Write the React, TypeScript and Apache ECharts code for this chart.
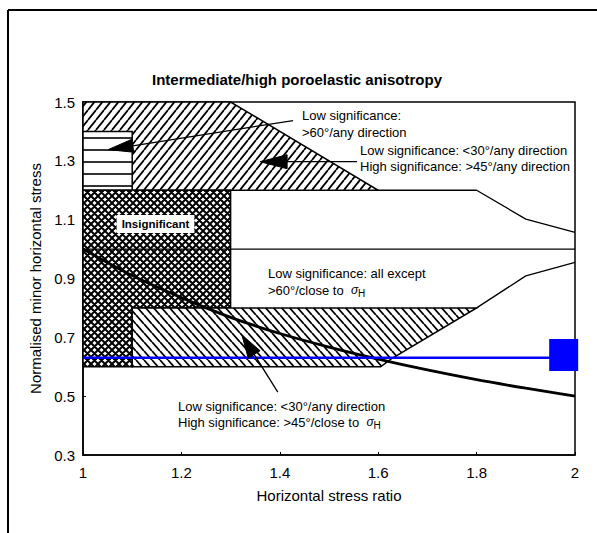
import React, { useEffect, useRef } from "react";
import * as echarts from "echarts";

// ---- Data ----
const xTicks = [1, 1.2, 1.4, 1.6, 1.8, 2];
const yTicks = [0.3, 0.5, 0.7, 0.9, 1.1, 1.3, 1.5];

// Regions (polygons in data coordinates)
const hatchTopRegion = [[1, 1.5], [1.3, 1.5], [1.6, 1.2], [1, 1.2]];
const horizontalBox = [[1, 1.4], [1.1, 1.4], [1.1, 1.2], [1, 1.2]];
const insignificantRegion = [[1, 1.2], [1.3, 1.2], [1.3, 0.8], [1.1, 0.8], [1.1, 0.6], [1, 0.6]];
const lowerHatchRegion = [[1.1, 0.8], [1.8, 0.8], [1.625, 0.625], [1.605, 0.6], [1.1, 0.6]];

// Boundary lines
const upperEdge = [[1.6, 1.2], [1.8, 1.2], [1.9, 1.102], [2, 1.057]];
const unityLine = [[1, 1], [2, 1]];
const lowerEdge = [[1.8, 0.8], [1.9, 0.909], [2, 0.955]];
const stressCurve = [
  [1, 1.0], [1.1, 0.91], [1.2, 0.835], [1.3, 0.768], [1.4, 0.713], [1.5, 0.667],
  [1.6, 0.626], [1.7, 0.589], [1.8, 0.556], [1.9, 0.527], [2, 0.5],
];

// Blue marker line and square
const blueLine = [[1, 0.631], [1.955, 0.631]];
const blueSquare = [[1.977, 0.64]];

// Annotation arrows: [tailX, tailY, tipX, tipY, headLength, headHalfWidth]
const arrows = [
  [1.427, 1.437, 1.051, 1.338, 25, 6.5],
  [1.557, 1.297, 1.36, 1.297, 27, 7],
  [1.396, 0.514, 1.323, 0.708, 23, 7],
];

const FONT = '"Liberation Sans", Arial, Helvetica, sans-serif';

function svgPattern(w: number, h: number, body: string) {
  const svg = `<svg xmlns="http://www.w3.org/2000/svg" width="${w}" height="${h}"><rect width="${w}" height="${h}" fill="white"/>${body}</svg>`;
  return {
    image: "data:image/svg+xml;charset=utf-8," + encodeURIComponent(svg),
    repeat: "repeat",
    imageWidth: w,
    imageHeight: h,
  };
}

const forwardHatch = svgPattern(
  8, 10,
  '<path d="M-8,10 L0,0 M0,10 L8,0 M8,10 L16,0" stroke="black" stroke-width="1.8" fill="none"/>'
);
const backHatch = svgPattern(
  8, 9,
  '<path d="M-8,0 L0,9 M0,0 L8,9 M8,0 L16,9" stroke="black" stroke-width="1.8" fill="none"/>'
);
const crossHatch = svgPattern(
  7, 7,
  '<path d="M-7,7 L0,0 M0,7 L7,0 M7,7 L14,0 M-7,0 L0,7 M0,0 L7,7 M7,0 L14,7" stroke="black" stroke-width="2" fill="none"/>'
);
const horizLines = svgPattern(
  4, 12,
  '<path d="M0,6 L4,6" stroke="black" stroke-width="1.6" fill="none"/>'
);

function polygonSeries(name: string, pts: number[][], fill: any, z: number) {
  return {
    type: "custom",
    name,
    coordinateSystem: "cartesian2d",
    data: pts,
    silent: true,
    z,
    renderItem: (params: any, api: any) => {
      if (params.dataIndex !== 0) return null;
      return {
        type: "polygon",
        shape: { points: pts.map((p) => api.coord(p)) },
        style: { fill, stroke: "#000", lineWidth: 1.5 },
      };
    },
  };
}

function lineSeries(name: string, pts: number[][], color: string, width: number, z: number, smooth: any = false) {
  return {
    type: "line",
    name,
    data: pts,
    symbol: "none",
    silent: true,
    smooth,
    z,
    lineStyle: { color, width },
  };
}

export default function App() {
  const ref = useRef<HTMLDivElement>(null);

  useEffect(() => {
    document.body.style.margin = "0";
    if (!ref.current) return;
    const chart = echarts.init(ref.current, null, { renderer: "svg" });

    const sigmaRich = {
      s: { font: `italic 12px ${FONT}`, fill: "#000" },
      h: { font: `10px ${FONT}`, fill: "#000", padding: [6, 0, 0, 0] },
    };

    const txt = (text: string, x: number, y: number, extra: any = {}) => ({
      type: "text",
      x,
      y,
      z: 100,
      style: {
        text,
        font: `13px ${FONT}`,
        fill: "#000",
        align: "left",
        verticalAlign: "middle",
        ...extra,
      },
    });

    const option: any = {
      animation: false,
      backgroundColor: "#fff",
      grid: {
        left: 83,
        right: 22,
        top: 102,
        bottom: 78,
        show: true,
        borderColor: "#000",
        borderWidth: 1.5,
        backgroundColor: "#fff",
      },
      xAxis: {
        type: "value",
        min: xTicks[0],
        max: xTicks[xTicks.length - 1],
        interval: 0.2,
        name: "Horizontal stress ratio",
        nameLocation: "middle",
        nameGap: 33,
        nameTextStyle: { fontFamily: FONT, fontSize: 15, color: "#000" },
        axisLine: { show: true, lineStyle: { color: "#000", width: 1.5 } },
        axisTick: { show: true, inside: true, length: 3, lineStyle: { color: "#000" } },
        axisLabel: {
          fontFamily: FONT,
          fontSize: 15,
          color: "#000",
          margin: 10,
          formatter: (v: number) => String(parseFloat(v.toFixed(1))),
        },
        splitLine: { show: false },
      },
      yAxis: {
        type: "value",
        min: yTicks[0],
        max: yTicks[yTicks.length - 1],
        interval: 0.2,
        name: "Normalised minor horizontal stress",
        nameLocation: "middle",
        nameGap: 35,
        nameTextStyle: { fontFamily: FONT, fontSize: 15, color: "#000" },
        axisLine: { show: true, lineStyle: { color: "#000", width: 1.5 } },
        axisTick: { show: true, inside: true, length: 3, lineStyle: { color: "#000" } },
        axisLabel: {
          fontFamily: FONT,
          fontSize: 15,
          color: "#000",
          margin: 8,
          formatter: (v: number) => v.toFixed(1),
        },
        splitLine: { show: false },
      },
      series: [
        polygonSeries("hatchTop", hatchTopRegion, forwardHatch, 2),
        polygonSeries("horizontalBox", horizontalBox, horizLines, 3),
        polygonSeries("insignificant", insignificantRegion, crossHatch, 3),
        polygonSeries("lowerHatch", lowerHatchRegion, backHatch, 3),
        lineSeries("upperEdge", upperEdge, "#000", 1.3, 4),
        lineSeries("unity", unityLine, "#000", 1.2, 4),
        lineSeries("lowerEdge", lowerEdge, "#000", 1.3, 4),
        lineSeries("curve", stressCurve, "#000", 2.8, 5, 0.3),
        lineSeries("blue", blueLine, "#0000ff", 2.5, 6),
        {
          type: "scatter",
          name: "blueSquare",
          data: blueSquare,
          symbol: "rect",
          symbolSize: [29, 32],
          itemStyle: { color: "#0000ff", opacity: 1 },
          clip: false,
          silent: true,
          z: 7,
        },
        {
          type: "custom",
          name: "arrows",
          coordinateSystem: "cartesian2d",
          data: arrows,
          silent: true,
          z: 8,
          renderItem: (params: any, api: any) => {
            const tail = api.coord([api.value(0), api.value(1)]);
            const tip = api.coord([api.value(2), api.value(3)]);
            const L = api.value(4);
            const W = api.value(5);
            const dx = tip[0] - tail[0];
            const dy = tip[1] - tail[1];
            const len = Math.sqrt(dx * dx + dy * dy) || 1;
            const ux = dx / len, uy = dy / len;
            const bx = tip[0] - ux * L, by = tip[1] - uy * L;
            const nx = -uy, ny = ux;
            return {
              type: "group",
              children: [
                {
                  type: "line",
                  shape: { x1: tail[0], y1: tail[1], x2: bx, y2: by },
                  style: { stroke: "#000", lineWidth: 1.3 },
                },
                {
                  type: "polygon",
                  shape: {
                    points: [
                      tip,
                      [bx + nx * W, by + ny * W],
                      [bx - nx * W, by - ny * W],
                    ],
                  },
                  style: { fill: "#000", stroke: "#000", lineWidth: 1 },
                },
              ],
            };
          },
        },
      ],
      graphic: [
        {
          type: "line",
          z: 100,
          shape: { x1: 8, y1: 10, x2: 597, y2: 10 },
          style: { stroke: "#000", lineWidth: 2 },
        },
        {
          type: "line",
          z: 100,
          shape: { x1: 8, y1: 10, x2: 8, y2: 533 },
          style: { stroke: "#000", lineWidth: 2 },
        },
        txt("Intermediate/high poroelastic anisotropy", 297, 79, {
          font: `bold 15px ${FONT}`,
          align: "center",
        }),
        txt("Low significance:", 302, 115),
        txt(">60°/any direction", 302, 132),
        txt("Low significance: <30°/any direction", 360, 150),
        txt("High significance: >45°/any direction", 360, 166),
        txt("Insignificant", 155.5, 224, {
          font: `bold 11.5px ${FONT}`,
          align: "center",
          backgroundColor: "#fff",
          padding: [3, 5, 3, 5],
        }),
        txt("Low significance: all except", 268, 273),
        txt(">60°/close to  {s|σ}{h|H}", 268, 290, { rich: sigmaRich }),
        txt("Low significance: <30°/any direction", 178, 406),
        txt("High significance: >45°/close to  {s|σ}{h|H}", 178, 422, { rich: sigmaRich }),
      ],
    };

    chart.setOption(option);
    return () => chart.dispose();
  }, []);

  return (
    <div
      ref={ref}
      style={{ position: "fixed", left: 0, top: 0, width: 597, height: 533, background: "#fff" }}
    />
  );
}
